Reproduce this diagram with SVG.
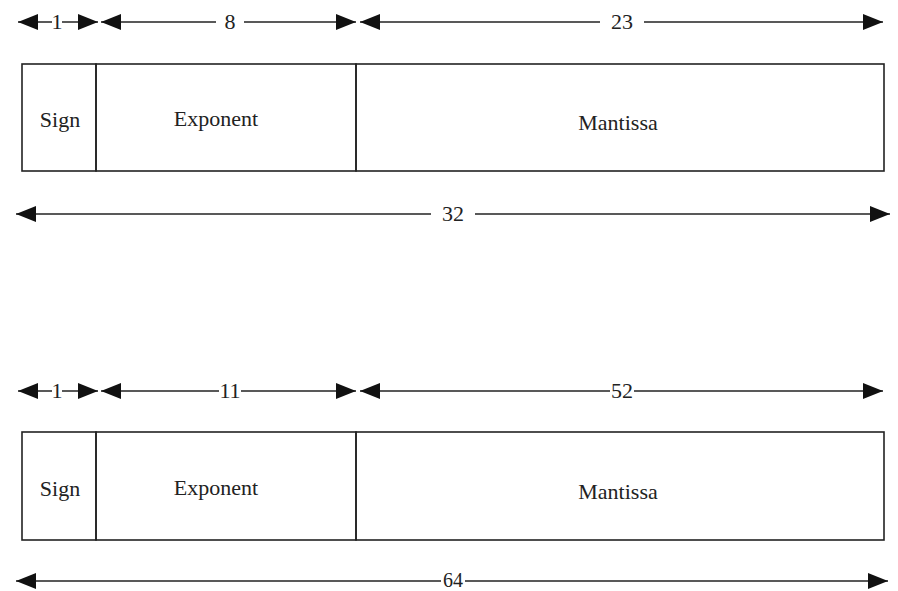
<svg xmlns="http://www.w3.org/2000/svg" width="898" height="591" viewBox="0 0 898 591">
<style>
.box{fill:none;stroke:#222;stroke-width:1.6}
.dim{stroke:#222;stroke-width:1.6;fill:none}
.t{font-family:'Liberation Serif','DejaVu Serif',serif;font-size:22px;fill:#222;text-anchor:middle}
.bg{fill:#fff}
</style>
<defs>
<marker id="ah" viewBox="0 0 20 16" refX="20" refY="8" markerWidth="20" markerHeight="16" markerUnits="userSpaceOnUse" orient="auto-start-reverse">
<path d="M0,0 L20,8 L0,16 Z" fill="#111"/>
</marker>
</defs>
<rect width="898" height="591" fill="#fff"/>
<g id="connectors">
<line class="dim" x1="18" y1="22" x2="98" y2="22" marker-start="url(#ah)" marker-end="url(#ah)"/>
<line class="dim" x1="101" y1="22" x2="356" y2="22" marker-start="url(#ah)" marker-end="url(#ah)"/>
<line class="dim" x1="360" y1="22" x2="883" y2="22" marker-start="url(#ah)" marker-end="url(#ah)"/>
<line class="dim" x1="16" y1="214" x2="890" y2="214" marker-start="url(#ah)" marker-end="url(#ah)"/>
<line class="dim" x1="18" y1="391" x2="98" y2="391" marker-start="url(#ah)" marker-end="url(#ah)"/>
<line class="dim" x1="101" y1="391" x2="356" y2="391" marker-start="url(#ah)" marker-end="url(#ah)"/>
<line class="dim" x1="360" y1="391" x2="883" y2="391" marker-start="url(#ah)" marker-end="url(#ah)"/>
<line class="dim" x1="16" y1="581" x2="888" y2="581" marker-start="url(#ah)" marker-end="url(#ah)"/>
</g>
<g id="labels">
<rect class="bg" x="52" y="12" width="10" height="20"/>
<text class="t" x="57" y="29">1</text>
<rect class="bg" x="216" y="12" width="28" height="20"/>
<text class="t" x="230" y="29">8</text>
<rect class="bg" x="600" y="12" width="44" height="20"/>
<text class="t" x="622" y="29">23</text>
<rect class="bg" x="431" y="204" width="44" height="20"/>
<text class="t" x="453" y="221">32</text>
<rect class="bg" x="52" y="381" width="10" height="20"/>
<text class="t" x="57" y="398">1</text>
<rect class="bg" x="219" y="381" width="22" height="20"/>
<text class="t" x="230" y="398">11</text>
<rect class="bg" x="610" y="381" width="24" height="20"/>
<text class="t" x="622" y="398">52</text>
<rect class="bg" x="441" y="571" width="24" height="20"/>
<text class="t" x="453" y="587" style="font-size:20px">64</text>
</g>
<g id="float32">
<g id="sign32"><rect class="box" x="22" y="64" width="74" height="107"/><text class="t" x="60" y="127">Sign</text></g>
<g id="exponent32"><rect class="box" x="96" y="64" width="260" height="107"/><text class="t" x="216" y="126">Exponent</text></g>
<g id="mantissa32"><rect class="box" x="356" y="64" width="528" height="107"/><text class="t" x="618" y="130">Mantissa</text></g>
</g>
<g id="float64">
<g id="sign64"><rect class="box" x="22" y="432" width="74" height="108"/><text class="t" x="60" y="496">Sign</text></g>
<g id="exponent64"><rect class="box" x="96" y="432" width="260" height="108"/><text class="t" x="216" y="495">Exponent</text></g>
<g id="mantissa64"><rect class="box" x="356" y="432" width="528" height="108"/><text class="t" x="618" y="499">Mantissa</text></g>
</g>
</svg>
